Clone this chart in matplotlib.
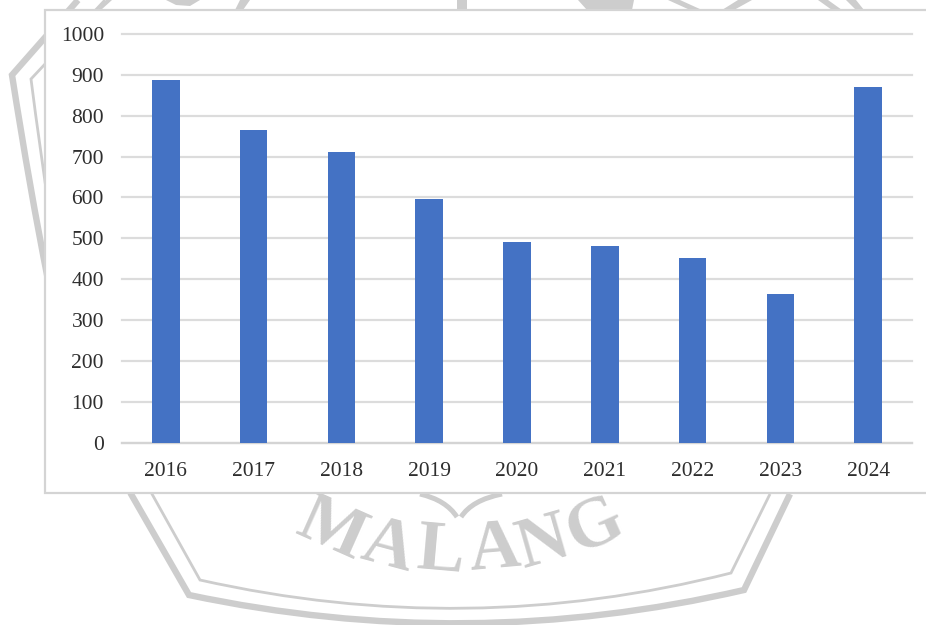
import matplotlib
matplotlib.use("Agg")
import matplotlib.pyplot as plt
from matplotlib.patches import Rectangle, PathPatch, Polygon
from matplotlib.path import Path

years = ["2016", "2017", "2018", "2019", "2020", "2021", "2022", "2023", "2024"]
values = [887, 765, 712, 595, 490, 480, 452, 363, 870]
yticks = list(range(0, 1001, 100))

W, H = 926, 625
plt.rcParams['font.family'] = ['Liberation Serif', 'DejaVu Serif']
fig = plt.figure(figsize=(W / 100, H / 100), dpi=100, facecolor='white')

# Background watermark, figure pixel coordinates
bg = fig.add_axes([0, 0, 1, 1], zorder=0)
bg.set_xlim(0, W)
bg.set_ylim(H, 0)
bg.axis('off')
wm = '#cdcdcd'


def stroke(verts, codes, lw):
    bg.add_patch(PathPatch(Path(verts, codes), fill=False, ec=wm, lw=lw, capstyle='butt', joinstyle='miter'))


M, L, Q = Path.MOVETO, Path.LINETO, Path.CURVE3
# outer frame
stroke([(78, 0), (12, 75), (30, 190), (48, 280), (131, 494), (189, 595), (467, 654), (744, 590), (790, 494)],
       [M, L, Q, Q, L, L, Q, Q, L], 4.6)
# inner frame
stroke([(105, 0), (31, 79), (40, 150), (50, 215), (152, 494), (200, 580), (467, 640), (731, 573), (770, 494)],
       [M, L, Q, Q, L, L, Q, Q, L], 2.0)
# top fragments of the logo
for pts in [[(457, 0), (467, 0), (467, 10), (457, 10)],
            [(578, 0), (634, 0), (632, 10), (587, 10)],
            [(668, 0), (680, 0), (702, 10), (690, 10)],
            [(738, 0), (752, 0), (734, 10), (722, 10)],
            [(818, 0), (828, 0), (842, 10), (832, 10)],
            [(846, 0), (856, 0), (864, 10), (856, 10)],
            [(166, 0), (200, 0), (190, 6), (176, 5)],
            [(240, 0), (250, 0), (243, 10), (235, 10)],
            [(97, 10), (106, 0), (112, 0), (101, 10)]]:
    bg.add_patch(Polygon(pts, closed=True, fc=wm, ec='none'))
# heart-shaped arcs above the lettering
stroke([(420, 494), (446, 500), (457, 517)], [M, Q, Q], 3.6)
stroke([(502, 494), (472, 500), (461, 517)], [M, Q, Q], 3.6)

letters = ["M", "A", "L", "A", "N", "G"]
letter_x = [331, 388, 441, 494, 543, 595]
letter_y = [531, 548, 553, 550, 544, 527]
letter_rot = [-24, -15, -5, 5, 16, 24]
for c, lx, ly, r in zip(letters, letter_x, letter_y, letter_rot):
    bg.text(lx, ly, c, fontsize=51, fontweight='bold', color=wm, ha='center', va='center',
            rotation=r, rotation_mode='anchor')

# Chart card
card = fig.add_axes([0, 0, 1, 1], zorder=1)
card.set_xlim(0, W)
card.set_ylim(H, 0)
card.axis('off')
card.patch.set_alpha(0)
card.add_patch(Rectangle((45, 10), 890, 483, fc='white', ec='#d4d4d4', lw=1.6))

# Chart
ax = fig.add_axes([122 / W, 1 - 442.5 / H, 790 / W, 408.5 / H], zorder=2)
ax.patch.set_alpha(0)
x = list(range(len(years)))
ax.bar(x, values, width=0.315, color='#4472C4', zorder=3)
ax.set_xlim(-0.5, 8.5)
ax.set_ylim(0, 1000)
ax.set_xticks(x, years)
ax.set_yticks(yticks)
ax.grid(axis='y', color='#dcdcdc', lw=1.6, zorder=0, clip_on=False)
ax.set_axisbelow(True)
for s in ['top', 'left', 'right']:
    ax.spines[s].set_visible(False)
ax.spines['bottom'].set_color('#d4d4d4')
ax.spines['bottom'].set_linewidth(1.6)
ax.tick_params(axis='both', length=0, labelsize=15.5, labelcolor='#2e2e2e')
ax.tick_params(axis='x', pad=14)
ax.tick_params(axis='y', pad=13)

fig.savefig("out.png", dpi=100)
